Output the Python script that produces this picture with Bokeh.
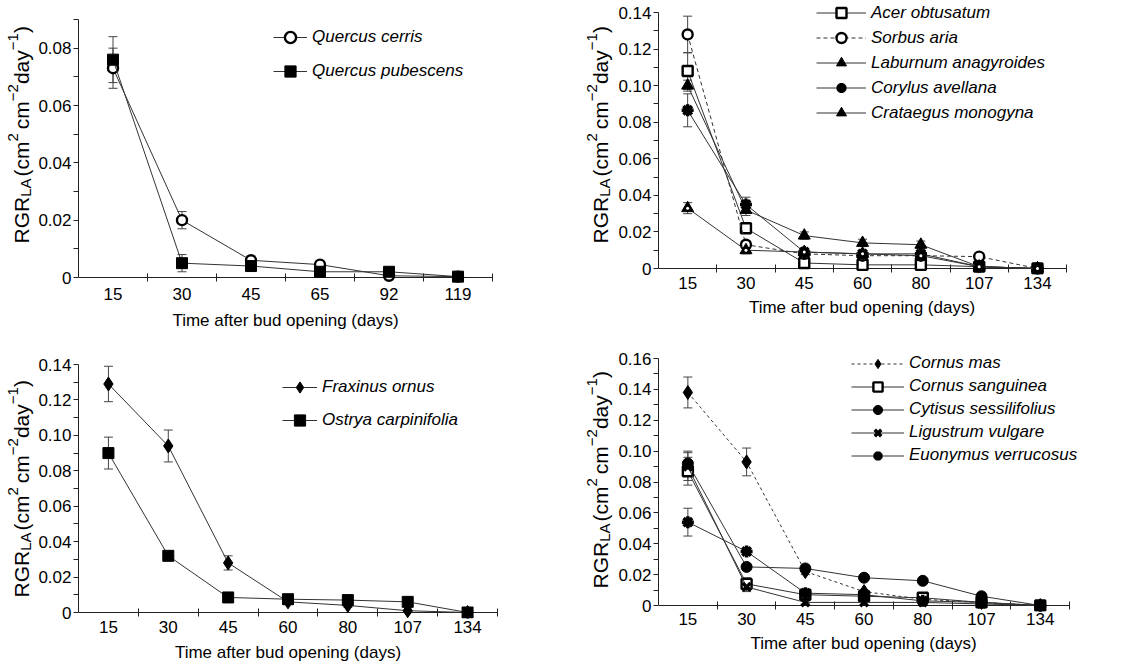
from math import pi
from bokeh.plotting import figure
from bokeh.layouts import row, column
from bokeh.models import (Range1d, FixedTicker, Label, Legend, LegendItem, Spacer,
                          Whisker, TeeHead, ColumnDataSource)
from bokeh.embed import file_html
from bokeh.resources import INLINE

FONT = "Liberation Sans"

# ---------------- data ----------------
days_a = ["15", "30", "45", "65", "92", "119"]
q_cerris = [0.073, 0.020, 0.006, 0.0045, 0.0006, 0.0003]
q_cerris_se = [0.007, 0.003, 0.0015, 0.001, 0.0005, 0.0]
q_pubescens = [0.076, 0.005, 0.004, 0.002, 0.002, 0.0003]
q_pubescens_se = [0.008, 0.003, 0.0015, 0.0005, 0.0005, 0.0]
yticks_a = [0, 0.02, 0.04, 0.06, 0.08]
yminor_a = [0.01, 0.03, 0.05, 0.07, 0.09]
ymax_a = 0.09

days_b = ["15", "30", "45", "60", "80", "107", "134"]
acer = [0.108, 0.022, 0.003, 0.002, 0.002, 0.001, 0.0]
acer_se = [0.010, 0.002, 0.001, 0.001, 0.0, 0.0, 0.0]
sorbus = [0.128, 0.013, 0.008, 0.007, 0.007, 0.0065, 0.0]
sorbus_se = [0.010, 0.002, 0.001, 0.001, 0.001, 0.001, 0.0]
laburnum = [0.100, 0.032, 0.018, 0.014, 0.013, 0.001, 0.0]
laburnum_se = [0.003, 0.003, 0.002, 0.002, 0.002, 0.0, 0.0]
corylus = [0.0865, 0.035, 0.009, 0.008, 0.008, 0.001, 0.0]
corylus_se = [0.009, 0.004, 0.001, 0.001, 0.001, 0.0, 0.0]
crataegus = [0.033, 0.010, 0.009, 0.008, 0.007, 0.001, 0.0]
crataegus_se = [0.003, 0.002, 0.001, 0.001, 0.001, 0.0, 0.0]
yticks_b = [0, 0.02, 0.04, 0.06, 0.08, 0.10, 0.12, 0.14]
yminor_b = [0.01, 0.03, 0.05, 0.07, 0.09, 0.11, 0.13]
ymax_b = 0.14

days_c = ["15", "30", "45", "60", "80", "107", "134"]
fraxinus = [0.129, 0.094, 0.028, 0.006, 0.004, 0.001, 0.0]
fraxinus_se = [0.010, 0.009, 0.004, 0.001, 0.001, 0.0, 0.0]
ostrya = [0.090, 0.032, 0.0085, 0.0075, 0.007, 0.006, 0.0]
ostrya_se = [0.009, 0.002, 0.001, 0.001, 0.001, 0.001, 0.0]
yticks_c = [0, 0.02, 0.04, 0.06, 0.08, 0.10, 0.12, 0.14]
yminor_c = [0.01, 0.03, 0.05, 0.07, 0.09, 0.11, 0.13]
ymax_c = 0.14

days_d = ["15", "30", "45", "60", "80", "107", "134"]
cornus_mas = [0.138, 0.093, 0.022, 0.009, 0.004, 0.002, 0.0]
cornus_mas_se = [0.010, 0.009, 0.002, 0.001, 0.001, 0.0, 0.0]
cornus_sang = [0.087, 0.014, 0.007, 0.006, 0.005, 0.002, 0.0]
cornus_sang_se = [0.009, 0.004, 0.001, 0.001, 0.001, 0.0, 0.0]
cytisus = [0.092, 0.025, 0.024, 0.018, 0.016, 0.006, 0.0]
cytisus_se = [0.008, 0.002, 0.002, 0.001, 0.001, 0.001, 0.0]
ligustrum = [0.090, 0.012, 0.002, 0.002, 0.002, 0.001, 0.0]
ligustrum_se = [0.009, 0.003, 0.001, 0.0, 0.0, 0.0, 0.0]
euonymus = [0.054, 0.035, 0.008, 0.007, 0.003, 0.002, 0.0]
euonymus_se = [0.009, 0.002, 0.001, 0.001, 0.0, 0.0, 0.0]
yticks_d = [0, 0.02, 0.04, 0.06, 0.08, 0.10, 0.12, 0.14, 0.16]
yminor_d = [0.01, 0.03, 0.05, 0.07, 0.09, 0.11, 0.13, 0.15]
ymax_d = 0.16

x_title = "Time after bud opening (days)"

# ---------------- styles ----------------
OPEN_CIRCLE = dict(marker="circle", size=10, fill_color="white", line_width=2.4)
OPEN_SQUARE = dict(marker="square", size=10, fill_color="white", line_width=2.4)
FILL_SQUARE = dict(marker="square", size=11, fill_color="black", line_width=1)
FILL_TRI = dict(marker="triangle", size=12, fill_color="black", line_width=1)
DOT_TRI = dict(marker="triangle", size=12, fill_color="black", line_width=1, dot=True)
ASTER = dict(marker="asterisk", size=12, fill_color="black", line_width=3.5)
XMARK = dict(marker="x", size=11, fill_color="black", line_width=3.5)
DIAMOND = dict(marker="diamond", size=14, fill_color="black", line_width=1)
FILL_CIRCLE = dict(marker="circle", size=11, fill_color="black", line_width=1)

LINE_COLOR = "#333333"
AXIS_COLOR = "#222222"
ERR_COLOR = "#444444"
PAD = 6

# Arial / Liberation Sans advance widths (per 1000 em)
WID = {"R": 722, "G": 778, "L": 556, "A": 667, "(": 333, ")": 333, "c": 500,
       "m": 833, "2": 556, "d": 556, "a": 556, "y": 500, "\u2212": 584, "1": 556}


def tw(s, size):
    return sum(WID[ch] for ch in s) * size / 1000.0


def blank_fig(w, h, **borders):
    f = figure(width=w, height=h, output_backend="svg", toolbar_location=None,
               x_range=Range1d(0, 1), y_range=Range1d(0, 1),
               x_axis_location=None, y_axis_location=None, **borders)
    f.outline_line_color = None
    f.xgrid.visible = False
    f.ygrid.visible = False
    f.background_fill_color = "white"
    f.border_fill_color = "white"
    return f


def ylabel_fig(g):
    fb = g["zero"] + PAD
    f = blank_fig(g["yw"], g["H"], min_border_left=0, min_border_right=0,
                  min_border_top=0, min_border_bottom=g["H"] - fb)
    main, small, sub_dx, sup_dx = 21, 15, 4, -8
    pieces = [("RGR", 0, 0), ("LA", 1, 2), ("(cm", 0, 0), ("2", -1, 4),
              ("cm", 0, 0), ("\u22122", -1, 0), ("day", 0, 0), ("\u22121", -1, 0),
              (")", 0, 0)]
    y = fb - g["ylab_start"]
    xc = g["ylab_xc"]
    for s, kind, gap in pieces:
        size = main if kind == 0 else small
        dx = 0 if kind == 0 else (sub_dx if kind == 1 else sup_dx)
        f.add_layout(Label(x=xc + dx, y=y, x_units="screen", y_units="screen",
                           text=s, angle=pi / 2, text_align="left",
                           text_baseline="middle", text_font=FONT,
                           text_font_size=f"{size}px", text_color="black"))
        y += tw(s, size) + gap
    return f


def title_fig(g):
    f = blank_fig(g["w"], g["sh"], min_border_left=g["fl"], min_border_right=0,
                  min_border_top=0, min_border_bottom=0)
    f.add_layout(Label(x=(g["fr"] - g["fl"]) / 2.0, y=g["sh"] - g["tc"],
                       x_units="screen", y_units="screen", text=x_title,
                       text_align="center", text_baseline="middle", text_font=FONT,
                       text_font_size="17px", text_color="black"))
    return f


def main_fig(days, series, ymax, yticks, yminor, g, lg):
    n = len(days)
    xs = list(range(1, n + 1))
    ppu = (g["zero"] - g["ytop"]) / ymax
    ystart = -PAD / ppu
    yend = ymax + g["ytop"] / ppu
    ppx = (g["fr"] - g["fl"]) / n
    xend = n + 0.5 + (g["w"] - g["fr"]) / ppx
    fb = g["zero"] + PAD
    p = figure(width=g["w"], height=g["H"], output_backend="svg", toolbar_location=None,
               x_range=Range1d(0.5, xend), y_range=Range1d(ystart, yend),
               min_border_left=g["fl"], min_border_right=0,
               min_border_top=0, min_border_bottom=g["H"] - fb)
    p.outline_line_color = None
    p.xgrid.visible = False
    p.ygrid.visible = False
    p.background_fill_color = "white"
    p.border_fill_color = "white"

    # x axis: day labels at category centres, ticks on category boundaries
    ax = p.xaxis[0]
    ax.ticker = FixedTicker(ticks=xs, minor_ticks=[i + 0.5 for i in xs])
    ax.major_label_overrides = {i: d for i, d in zip(xs, days)}
    ax.major_tick_in = 0
    ax.major_tick_out = 0
    ax.major_tick_line_color = None
    ax.minor_tick_in = PAD + 4
    ax.minor_tick_out = 4 - PAD
    ax.minor_tick_line_color = AXIS_COLOR
    ax.axis_line_color = None
    ax.major_label_text_font = FONT
    ax.major_label_text_font_size = "17px"
    ax.major_label_text_color = "black"
    ax.major_label_standoff = g["s1"]

    # axis line at zero, spanning the categories
    base = ColumnDataSource(dict(y=[0], x0=[0.5], x1=[n + 0.5]))
    p.add_layout(Whisker(base="y", lower="x0", upper="x1", dimension="width",
                         source=base, level="underlay", line_color=AXIS_COLOR,
                         line_width=1, upper_head=None, lower_head=None))

    ay = p.yaxis[0]
    ay.ticker = FixedTicker(ticks=yticks, minor_ticks=yminor)
    ay.major_label_overrides = {t: ("0" if t == 0 else f"{t:.2f}") for t in yticks}
    ay.bounds = (0, ymax)
    ay.major_tick_in = 0
    ay.major_tick_out = 5
    ay.minor_tick_in = 0
    ay.minor_tick_out = 5
    ay.axis_line_color = AXIS_COLOR
    ay.major_tick_line_color = AXIS_COLOR
    ay.minor_tick_line_color = AXIS_COLOR
    ay.major_label_text_font = FONT
    ay.major_label_text_font_size = "17px"
    ay.major_label_text_color = "black"
    ay.major_label_standoff = 2

    items = []
    for name, ys, se, style, dash in series:
        src = ColumnDataSource(dict(x=xs, y=ys))
        wx = [x for x, e in zip(xs, se) if e > 0]
        wu = [y + e for y, e in zip(ys, se) if e > 0]
        wl = [y - e for y, e in zip(ys, se) if e > 0]
        wsrc = ColumnDataSource(dict(x=wx, upper=wu, lower=wl))
        p.add_layout(Whisker(base="x", upper="upper", lower="lower", source=wsrc,
                             level="underlay", line_color=ERR_COLOR, line_width=1,
                             upper_head=TeeHead(size=9, line_color=ERR_COLOR, line_width=1),
                             lower_head=TeeHead(size=9, line_color=ERR_COLOR, line_width=1)))
        lr = p.line("x", "y", source=src, line_color=LINE_COLOR, line_width=1,
                    line_dash=dash)
        st = dict(style)
        dot = st.pop("dot", False)
        sr = p.scatter("x", "y", source=src, line_color="black", **st)
        if dot:
            p.scatter("x", "y", source=src, marker="circle", size=3,
                      fill_color="white", line_color=None)
        items.append(LegendItem(label=name, renderers=[lr, sr]))

    legend = Legend(items=items, location=(lg["vx"], lg["vy"]), orientation="vertical",
                    glyph_width=lg["gw"], glyph_height=lg["gh"], spacing=lg["sp"],
                    padding=0, margin=0, border_line_color=None,
                    background_fill_alpha=0, label_standoff=5,
                    label_text_font=FONT, label_text_font_style="italic",
                    label_text_font_size="17px", label_text_color="black",
                    label_height=lg["gh"])
    p.add_layout(legend)
    return p


def panel(days, series, ymax, yticks, yminor, g, lg):
    yl = ylabel_fig(g)
    mp = main_fig(days, series, ymax, yticks, yminor, g, lg)
    tf = title_fig(g)
    return column(row(yl, mp), row(Spacer(width=g["yw"], height=g["sh"]), tf))


# panel geometry in pixels (each main figure's own coordinates)
gA = dict(yw=35, w=525, H=312, fl=43, fr=457, ytop=19, zero=277, s1=4,
          ylab_xc=20.5, ylab_start=243, sh=22, tc=8)
gB = dict(yw=55, w=512, H=298, fl=42, fr=451, ytop=12, zero=268, s1=2,
          ylab_xc=39.5, ylab_start=243, sh=40, tc=9)
gC = dict(yw=35, w=525, H=310, fl=43, fr=462, ytop=30, zero=278, s1=2,
          ylab_xc=20.5, ylab_start=263, sh=19, tc=8)
gD = dict(yw=55, w=512, H=296, fl=42, fr=454, ytop=20, zero=267, s1=1,
          ylab_xc=39.5, ylab_start=250, sh=29, tc=9)

cA = panel(days_a,
           [("Quercus cerris", q_cerris, q_cerris_se, OPEN_CIRCLE, "solid"),
            ("Quercus pubescens", q_pubescens, q_pubescens_se, FILL_SQUARE, "solid")],
           ymax_a, yticks_a, yminor_a, gA,
           dict(vx=195, vy=198, gw=34, gh=28, sp=6))

cB = panel(days_b,
           [("Acer obtusatum", acer, acer_se, OPEN_SQUARE, "solid"),
            ("Sorbus aria", sorbus, sorbus_se, OPEN_CIRCLE, "4 3"),
            ("Laburnum anagyroides", laburnum, laburnum_se, FILL_TRI, "solid"),
            ("Corylus avellana", corylus, corylus_se, ASTER, "solid"),
            ("Crataegus monogyna", crataegus, crataegus_se, DOT_TRI, "solid")],
           ymax_b, yticks_b, yminor_b, gB,
           dict(vx=158, vy=149, gw=50, gh=25, sp=0))

cC = panel(days_c,
           [("Fraxinus ornus", fraxinus, fraxinus_se, DIAMOND, "solid"),
            ("Ostrya carpinifolia", ostrya, ostrya_se, FILL_SQUARE, "solid")],
           ymax_c, yticks_c, yminor_c, gC,
           dict(vx=204, vy=184, gw=35, gh=28, sp=5))

cD = panel(days_d,
           [("Cornus mas", cornus_mas, cornus_mas_se, DIAMOND, "3 3"),
            ("Cornus sanguinea", cornus_sang, cornus_sang_se, OPEN_SQUARE, "solid"),
            ("Cytisus sessilifolius", cytisus, cytisus_se, FILL_CIRCLE, "solid"),
            ("Ligustrum vulgare", ligustrum, ligustrum_se, XMARK, "solid"),
            ("Euonymus verrucosus", euonymus, euonymus_se, ASTER, "solid")],
           ymax_d, yticks_d, yminor_d, gD,
           dict(vx=193, vy=144.5, gw=53, gh=23, sp=0))

layout = row(column(cA, cC), column(cB, cD))

open("out.html", "w").write(file_html(layout, INLINE))
